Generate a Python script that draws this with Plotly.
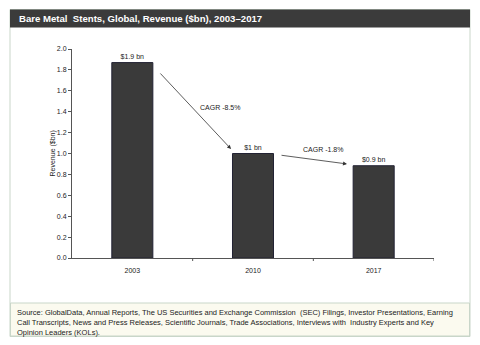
import plotly.graph_objects as go

# ---- data ----
years = ["2003", "2010", "2017"]
revenue = [1.87, 1.0, 0.883]
bar_labels = ["$1.9 bn", "$1 bn", "$0.9 bn"]
y_ticks = [0.0, 0.2, 0.4, 0.6, 0.8, 1.0, 1.2, 1.4, 1.6, 1.8, 2.0]
cagr_labels = ["CAGR -8.5%", "CAGR -1.8%"]
cagr_label_pos = [(0.726, 1.445), (1.58, 1.035)]
arrow_start = [(0.221, 1.78), (1.224, 0.985)]
arrow_end = [(0.818, 1.043), (1.779, 0.90)]
title = "Bare Metal  Stents, Global, Revenue ($bn), 2003\u20132017"
source = ("Source: GlobalData, Annual Reports, The US Securities and Exchange Commission  (SEC) Filings, Investor Presentations, Earning<br>"
          "Call Transcripts, News and Press Releases, Scientific Journals, Trade Associations, Interviews with  Industry Experts and Key<br>"
          "Opinion Leaders (KOLs).")

W, H = 480, 345
L, R, T, B = 72, 434, 49, 258  # plot area in pixels


def px(x):
    return (x - L) / (R - L)


def py(y):
    return (B - y) / (B - T)


FONT = "Liberation Sans, Arial, sans-serif"

fig = go.Figure()
fig.add_trace(go.Bar(
    x=years, y=revenue, width=0.34,
    marker=dict(color="#3a3a3a", line=dict(color="#222233", width=1)),
    text=bar_labels, textposition="outside", cliponaxis=False,
    textfont=dict(family=FONT, size=7, color="#222"),
    hoverinfo="skip",
))

shapes = [
    # outer frame
    dict(type="rect", xref="paper", yref="paper", x0=px(10), x1=px(470), y0=py(336.5), y1=py(9.5),
         line=dict(color="#c9d6c9", width=1), fillcolor="rgba(0,0,0,0)", layer="below"),
    # title bar
    dict(type="rect", xref="paper", yref="paper", x0=px(10), x1=px(470), y0=py(27.5), y1=py(9.5),
         line=dict(width=0), fillcolor="#3b3b3b", layer="below"),
    # footer
    dict(type="rect", xref="paper", yref="paper", x0=px(10.5), x1=px(469.5), y0=py(336), y1=py(303),
         line=dict(color="#c9d6c9", width=1), fillcolor="#fbfaef", layer="below"),
]

annotations = [
    dict(text="<b>" + title + "</b>", xref="paper", yref="paper", x=px(17), y=py(18.5),
         xanchor="left", yanchor="middle", showarrow=False,
         font=dict(family=FONT, size=9.6, color="white")),
    dict(text=source, xref="paper", yref="paper", x=px(15), y=py(305.5),
         xanchor="left", yanchor="top", align="left", showarrow=False,
         font=dict(family=FONT, size=7.5, color="#222")),
    dict(text="Revenue ($bn)", xref="paper", yref="paper", x=px(52), y=0.5,
         xanchor="center", yanchor="middle", textangle=-90, showarrow=False,
         font=dict(family=FONT, size=7, color="#222")),
]
for (sx, sy), (ex, ey) in zip(arrow_start, arrow_end):
    annotations.append(dict(x=ex, y=ey, ax=sx, ay=sy, xref="x", yref="y", axref="x", ayref="y",
                            text="", showarrow=True, arrowhead=2, arrowsize=1, arrowwidth=0.8,
                            arrowcolor="#333"))
for lab, (lx, ly) in zip(cagr_labels, cagr_label_pos):
    annotations.append(dict(x=lx, y=ly, xref="x", yref="y", text=lab, showarrow=False,
                            font=dict(family=FONT, size=7, color="#222")))

fig.update_layout(
    width=W, height=H,
    margin=dict(l=L, r=W - R, t=T, b=H - B),
    paper_bgcolor="white", plot_bgcolor="white",
    showlegend=False,
    shapes=shapes, annotations=annotations,
    font=dict(family=FONT, size=7, color="#222"),
    xaxis=dict(range=[-0.5, 2.5], showline=True, linecolor="#555", linewidth=1,
               ticks="", ticklabelstandoff=6, tickfont=dict(family=FONT, size=7, color="#222"),
               fixedrange=True, showgrid=False),
    yaxis=dict(range=[0, 2.0], tickvals=y_ticks, ticktext=[f"{v:.1f}" for v in y_ticks],
               showline=True, linecolor="#555", linewidth=1, ticks="outside", ticklen=3,
               tickcolor="#555", tickfont=dict(family=FONT, size=7, color="#222"),
               showgrid=False, zeroline=False, fixedrange=True),
)
# category-boundary ticks on x axis
for xb in [0.5, 1.5, 2.5]:
    fig.add_shape(type="line", xref="x", yref="paper", x0=xb, x1=xb, y0=0, y1=-3 / (B - T),
                  line=dict(color="#555", width=1))

fig.write_html("out.html")
